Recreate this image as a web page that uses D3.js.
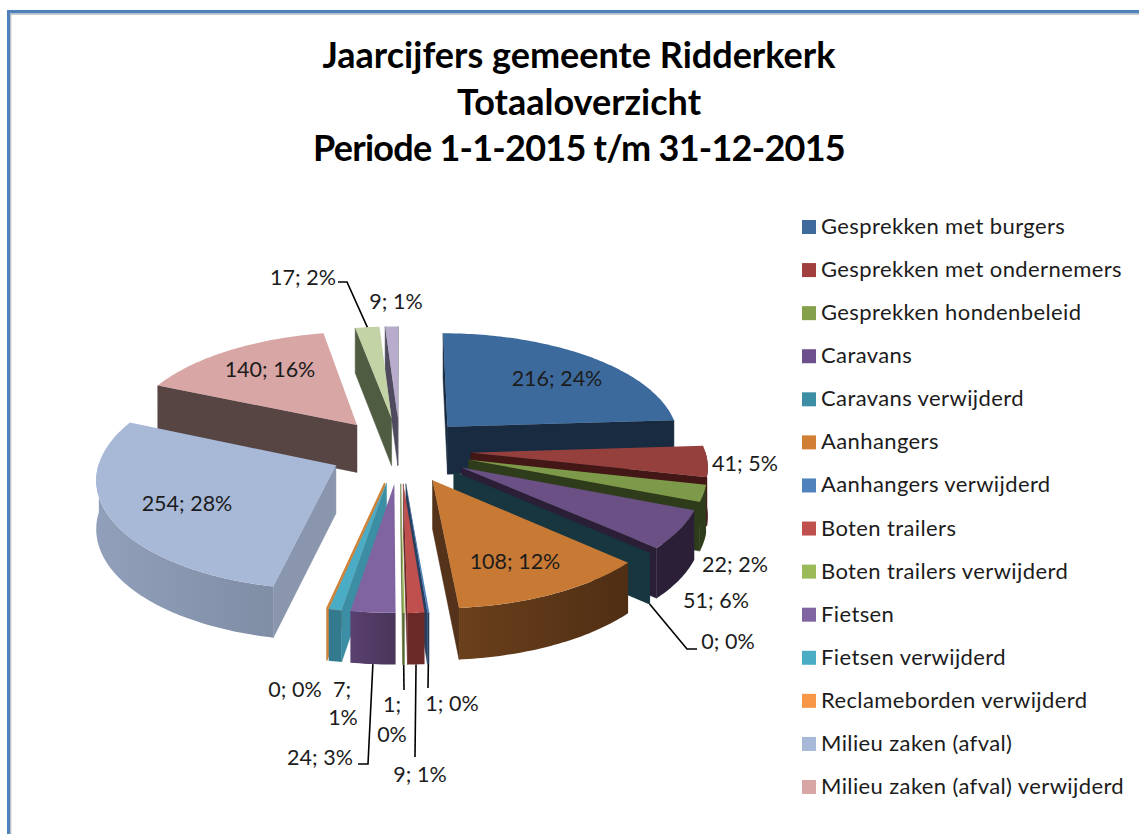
<!DOCTYPE html>
<html>
<head>
<meta charset="utf-8">
<script src="https://cdn.jsdelivr.net/npm/d3@7"></script>
<style>
html, body { margin: 0; padding: 0; background: #fff; }
svg { display: block; }
text { font-family: Lato, "Open Sans", sans-serif; fill: #1c1c1c; }
</style>
</head>
<body>
<div id="chart"></div>
<script>
var titleLines = ["Jaarcijfers gemeente Ridderkerk", "Totaaloverzicht", "Periode 1-1-2015 t/m 31-12-2015"];
var titleSpacing = [0, 0, -0.75]; // digits run wide in this font

var categories = ["Gesprekken met burgers", "Gesprekken met ondernemers", "Gesprekken hondenbeleid", "Caravans",
  "Caravans verwijderd", "Aanhangers", "Aanhangers verwijderd", "Boten trailers", "Boten trailers verwijderd",
  "Fietsen", "Fietsen verwijderd", "Reclameborden verwijderd", "Milieu zaken (afval)",
  "Milieu zaken (afval) verwijderd", "Overig 1", "Overig 2"];
var values = [216, 41, 22, 51, 0, 108, 1, 9, 1, 24, 7, 0, 254, 140, 17, 9];
var percents = [24, 5, 2, 6, 0, 12, 0, 1, 0, 3, 1, 0, 28, 16, 2, 1];
var legendCount = 14; // last two slices have fallen out of the legend in the picture

// colours: top face, legend, walls
var topColors = ["#3d6a9c", "#96403d", "#7d9a4a", "#6a5084", "#3b8ea4", "#c87a35", "#4f81bd", "#c0504d",
  "#9bbb59", "#8064a2", "#4bacc6", "#f79646", "#a8b9d8", "#d8a6a5", "#c3d3a5", "#b7accb"];
var legendColors = ["#3f6a9c", "#a03f3d", "#84a04a", "#6c4f8c", "#3b8ea4", "#d07f35", "#4f81bd", "#c0504d",
  "#9bbb59", "#8064a2", "#4bacc6", "#f79646", "#a8b9d8", "#d8a6a5", "#c3d3a5", "#b7accb"];
var sideColors = ["#182b40", "#421716", "#2f3c1c", "#2a1f36", "#17363f", "#54331a", "#274060", "#6b2a28",
  "#55672f", "#4e3c63", "#3b8ea4", "#d0843c", "#8996ad", "#574544", "#505c42", "#4f4a5e"];
var wallFrom = ["#182b40", "#421716", "#2f3c1c", "#2a1f36", "#17363f", "#4f2e14", "#274060", "#6b2a28",
  "#55672f", "#483558", "#347a8e", "#c67c3a", "#7f8da5", "#574544", "#505c42", "#4f4a5e"];
var wallTo = ["#1a2d44", "#421716", "#2f3c1c", "#2a1f36", "#17363f", "#6b401c", "#274060", "#6b2a28",
  "#55672f", "#5a4070", "#347a8e", "#c67c3a", "#919fba", "#574544", "#505c42", "#4f4a5e"];

// label layout: centre of the text, one entry per line
var labelLayout = [
  [[557, 379]], [[745, 464]], [[735, 565]], [[716, 601]], [[728, 642]], [[515, 562]], [[452, 704]], [[420, 775]],
  [[392, 705], [392, 735]], [[320, 758]], [[342, 690], [343, 718]], [[295, 690]], [[187, 504]], [[270, 370]],
  [[303, 278]], [[396, 302]]
];
// leader lines: slice index, where it leaves the slice, bend points towards the label
var leaders = [
  { i: 4, from: "bottom", bends: [[687, 649], [697, 649]] },
  { i: 6, from: "bottom", bends: [[428, 688]] },
  { i: 7, from: "bottom", bends: [[415, 757]] },
  { i: 8, from: "bottom", bends: [[404, 690]] },
  { i: 9, from: "bottom", bends: [[368, 764], [358, 764]] },
  { i: 14, from: "top", bends: [[347, 282], [338, 282]] }
];

var width = 1139, height = 834;

// projection of the tilted pie
var cx = 400, cy = 450, radius = 234, explode = 71, tilt = 0.461, eye = 2220, depth = 48;

function project(x, y, z) {
  var f = 1 / (1 - y / eye);
  return [cx + x * f, cy + y * tilt * f + z * Math.sqrt(f)];
}
// point of a slice: r = distance from its apex, a = angle (0 is up, clockwise), z = 0 top face, depth = bottom
function slicePoint(d, r, a, z) {
  var mid = (d.startAngle + d.endAngle) / 2;
  var x = explode * Math.sin(mid) + r * Math.sin(a);
  var y = -explode * Math.cos(mid) - r * Math.cos(a);
  return project(x, y, z);
}

var svg = d3.select("#chart").append("svg").attr("width", width).attr("height", height);
var defs = svg.append("defs");

// frame of the screenshot
svg.append("rect").attr("x", 7).attr("y", 10).attr("width", width - 7).attr("height", 3.5).attr("fill", "#4f81bd");
svg.append("rect").attr("x", 10).attr("y", 13.5).attr("width", width - 10).attr("height", 1.3).attr("fill", "#bdbdbd");
svg.append("rect").attr("x", 7).attr("y", 10).attr("width", 3).attr("height", height - 10).attr("fill", "#4f81bd");
svg.append("rect").attr("x", 10).attr("y", 13.5).attr("width", 1.3).attr("height", height - 13.5).attr("fill", "#bdbdbd");

svg.selectAll(".title").data(titleLines).enter().append("text")
  .attr("class", "title")
  .attr("x", 579)
  .attr("y", function(d, i) { return 68 + i * 46.5; })
  .attr("text-anchor", "middle")
  .attr("font-size", 36)
  .attr("font-weight", 700)
  .attr("letter-spacing", function(d, i) { return titleSpacing[i]; })
  .style("fill", "#000")
  .text(function(d) { return d; });

var pie = d3.pie().sort(null).startAngle(0).endAngle(2 * Math.PI);
var slices = pie(values).map(function(d, i) { d.i = i; return d; });

var line = d3.line();

// back slices first
var order = slices.slice().sort(function(a, b) {
  var ma = (a.startAngle + a.endAngle) / 2, mb = (b.startAngle + b.endAngle) / 2;
  return (-Math.cos(ma)) - (-Math.cos(mb));
});

var group = svg.append("g").attr("class", "pie");

order.forEach(function(d) {
  var g = group.append("g");
  var span = d.endAngle - d.startAngle;
  var steps = Math.max(1, Math.ceil(span / (Math.PI / 180)));
  var angles = d3.range(steps + 1).map(function(k) { return d.startAngle + span * k / steps; });
  var zero = d.value === 0;

  // radial wall on either side, only when it faces the viewer
  [d.startAngle, d.endAngle].forEach(function(a, side) {
    var q = [slicePoint(d, 0, a, 0), slicePoint(d, radius, a, 0), slicePoint(d, radius, a, depth), slicePoint(d, 0, a, depth)];
    var facing = side === 0 ? d3.polygonArea(q) > 0 : d3.polygonArea(q) < 0;
    if (!facing && !zero) return;
    g.append("path").attr("d", line(q) + "Z")
      .attr("fill", sideColors[d.i])
      .attr("stroke", sideColors[d.i]).attr("stroke-width", 0.5);
  });

  // outer wall: the part of the arc turned towards the viewer, shaded along its length
  var seen = angles.filter(function(a) { return Math.cos(a) < 0.02; });
  if (!zero && seen.length > 1) {
    var upper = seen.map(function(a) { return slicePoint(d, radius, a, 0); });
    var lower = seen.map(function(a) { return slicePoint(d, radius, a, depth); }).reverse();
    var grad = defs.append("linearGradient").attr("id", "wall" + d.i)
      .attr("gradientUnits", "userSpaceOnUse")
      .attr("x1", upper[0][0]).attr("y1", 0)
      .attr("x2", upper[upper.length - 1][0]).attr("y2", 0);
    grad.append("stop").attr("offset", 0).attr("stop-color", wallFrom[d.i]);
    grad.append("stop").attr("offset", 1).attr("stop-color", wallTo[d.i]);
    g.append("path").attr("d", line(upper.concat(lower)) + "Z")
      .attr("fill", "url(#wall" + d.i + ")");
  }

  // top face, a zero slice is only an edge
  var top = [slicePoint(d, 0, d.startAngle, 0)].concat(angles.map(function(a) { return slicePoint(d, radius, a, 0); }));
  g.append("path").attr("d", line(top) + "Z")
    .attr("fill", topColors[d.i])
    .attr("stroke", zero ? sideColors[d.i] : "none")
    .attr("stroke-width", zero ? 1.5 : 0);
});

// leader lines start on the slice they belong to
leaders.forEach(function(l) {
  var d = slices[l.i];
  var mid = (d.startAngle + d.endAngle) / 2;
  var start = slicePoint(d, radius, mid, l.from === "bottom" ? depth : 0);
  svg.append("path")
    .attr("d", line([start].concat(l.bends)))
    .attr("fill", "none")
    .attr("stroke", "#000")
    .attr("stroke-width", 1.6);
});

// data labels, wrapped where the picture wraps them
slices.forEach(function(d) {
  var full = values[d.i] + "; " + percents[d.i] + "%";
  var pos = labelLayout[d.i];
  var parts = pos.length === 1 ? [full] : [values[d.i] + ";", percents[d.i] + "%"];
  parts.forEach(function(t, k) {
    svg.append("text")
      .attr("class", "label")
      .attr("x", pos[k][0])
      .attr("y", pos[k][1] + 7)
      .attr("text-anchor", "middle")
      .attr("font-size", 21.5)
      .text(t);
  });
});

// legend
var legendY = d3.scalePoint().domain(d3.range(legendCount)).range([227, 787]);
var legend = svg.selectAll(".legend").data(categories.slice(0, legendCount)).enter().append("g")
  .attr("class", "legend")
  .attr("transform", function(d, i) { return "translate(802," + legendY(i) + ")"; });
legend.append("rect")
  .attr("x", 0).attr("y", -7)
  .attr("width", 14).attr("height", 14)
  .attr("fill", function(d, i) { return legendColors[i]; });
legend.append("text")
  .attr("x", 19).attr("y", 7)
  .attr("font-size", 22)
  .attr("letter-spacing", 0.39)
  .text(function(d) { return d; });
</script>
</body>
</html>
